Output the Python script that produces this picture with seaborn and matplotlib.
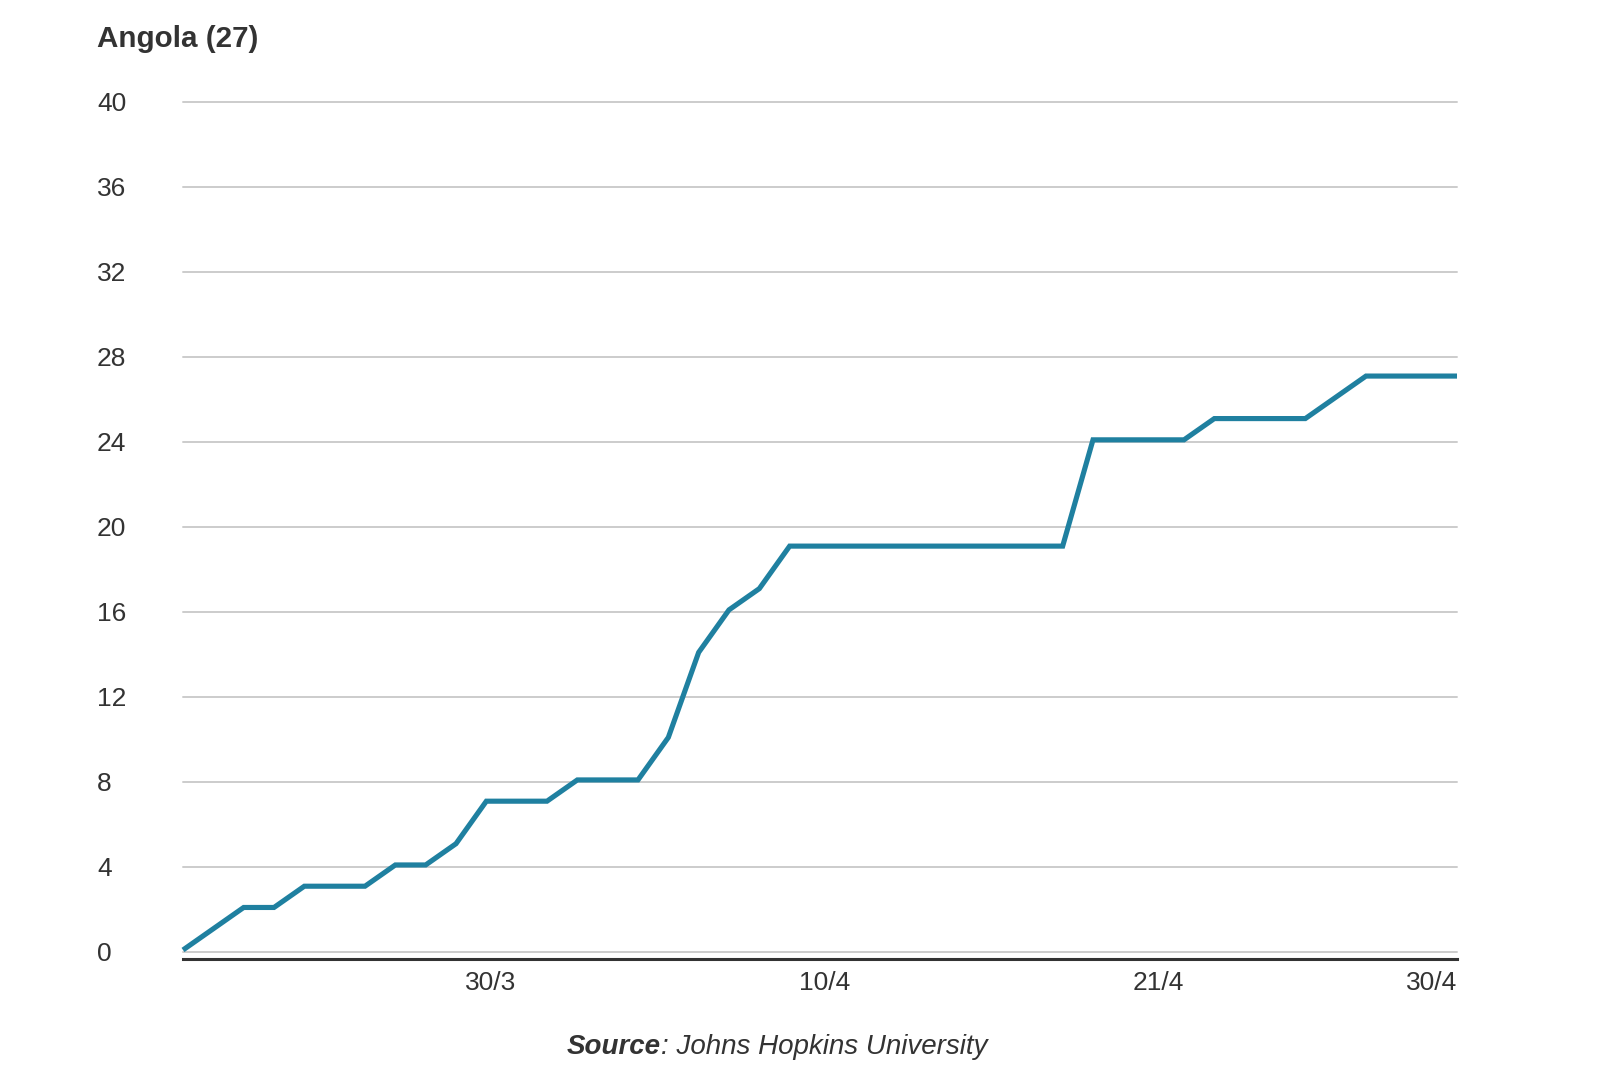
import matplotlib
matplotlib.use("Agg")
import matplotlib.pyplot as plt
import matplotlib.transforms as mtransforms
import seaborn as sns
import pandas as pd

# ---- data ----
start_date = "2020-03-19"
end_date = "2020-04-30"
cases = [0, 1, 2, 2, 3, 3, 3, 4, 4, 5,
         7, 7, 7, 8, 8, 8, 10, 14, 16, 17,
         19, 19, 19, 19, 19, 19, 19, 19, 19, 19,
         24, 24, 24, 24, 25, 25, 25, 25, 26, 27,
         27, 27, 27]
tick_dates = ["2020-03-30", "2020-04-10", "2020-04-21", "2020-04-30"]
tick_labels = ["30/3", "10/4", "21/4", "30/4"]
y_ticks = [0, 4, 8, 12, 16, 20, 24, 28, 32, 36, 40]
title = "Angola (27)"
source_bold = "Source"
source_rest = ": Johns Hopkins University"

dates = pd.date_range(start_date, end_date, freq="D")
df = pd.DataFrame({"date": dates, "cases": cases})

sns.set_theme(style="white")
plt.rcParams["font.family"] = ["Liberation Sans", "DejaVu Sans"]

W, H = 1598, 1077
fig = plt.figure(figsize=(W / 100, H / 100), dpi=100)
ax = fig.add_axes([183 / W, 0.10929, (1457 - 183) / W, 0.80612])

TXT = "#333333"
LINE = "#1f80a0"

for y in y_ticks:
    ax.axhline(y, color="#cccccc", lw=1.4, zorder=1, clip_on=False)

sns.lineplot(data=df, x="date", y="cases", ax=ax, color=LINE, lw=3.7,
             zorder=3, solid_joinstyle="miter", solid_capstyle="butt")
# the reference line sits ~2 px above the gridlines
for ln in ax.lines:
    if ln.get_color() == LINE:
        ln.set_transform(ax.transData +
                         mtransforms.ScaledTranslation(0, 2 / 100, fig.dpi_scale_trans))
        ln.set_clip_on(False)

ax.set_xlim(pd.Timestamp(start_date), pd.Timestamp(end_date))
ax.set_ylim(-0.344, 40.5)

ax.set_yticks(y_ticks)
ax.set_yticklabels([str(v) for v in y_ticks])
ax.set_xticks([pd.Timestamp(d) for d in tick_dates])
ax.set_xticklabels(tick_labels)

ax.tick_params(axis="y", length=0, pad=61.9, labelsize=19, labelcolor=TXT)
ax.tick_params(axis="x", length=0, pad=8.2, labelsize=19, labelcolor=TXT)
for lab in ax.get_yticklabels():
    lab.set_horizontalalignment("left")
for lab in ax.get_xticklabels():
    lab.set_horizontalalignment("right")

ax.set_xlabel("")
ax.set_ylabel("")
for s in ["top", "right", "left"]:
    ax.spines[s].set_visible(False)
ax.spines["bottom"].set_color(TXT)
ax.spines["bottom"].set_linewidth(2.2)
ax.spines["bottom"].set_zorder(4)

fig.text(97 / W, 1 - 47.3 / H, title, fontsize=21.3, fontweight="bold",
         color=TXT, ha="left", va="baseline")

t1 = fig.text(567 / W, 1 - 1053.5 / H, source_bold, fontsize=20,
              fontweight="bold", style="italic", color=TXT,
              ha="left", va="baseline")
fig.canvas.draw()
bb = t1.get_window_extent(renderer=fig.canvas.get_renderer())
fig.text(bb.x1 / W, 1 - 1053.5 / H, source_rest, fontsize=20,
         style="italic", color=TXT, ha="left", va="baseline")

fig.savefig("out.png", dpi=100, facecolor="white")
